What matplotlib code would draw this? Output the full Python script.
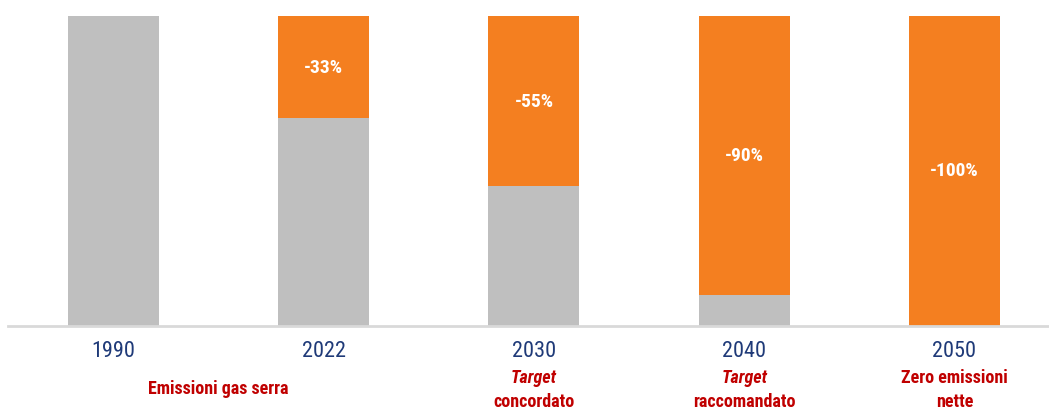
import matplotlib.pyplot as plt
import numpy as np

plt.rcParams['font.family'] = ['Roboto Condensed', 'Liberation Sans', 'DejaVu Sans']

# dati: emissioni rispetto al 1990 (%)
anni = ['1990', '2022', '2030', '2040', '2050']
riduzione = [0, 33, 55, 90, 100]
rimanente = [100, 67, 45, 10, 0]
etichette_pct = ['', '-33%', '-55%', '-90%', '-100%']

grigio = '#BFBFBF'
arancio = '#F47F20'
blu = '#1F3A78'
rosso = '#C00000'

fig = plt.figure(figsize=(10.49, 4.10), dpi=100)
ax = fig.add_axes([8 / 1049, 1 - 326.5 / 410, 1 - 8 / 1049, 310 / 410])

x = np.arange(len(anni))
w = 0.433
ax.bar(x, rimanente, w, color=grigio, zorder=2)
ax.bar(x, riduzione, w, bottom=rimanente, color=arancio, zorder=2)

for i, lab in enumerate(etichette_pct):
    if lab:
        ax.text(i, rimanente[i] + riduzione[i] / 2, lab, ha='center', va='center',
                color='white', fontsize=14, fontweight='bold')

ax.set_xlim(-0.502, 4.45)
ax.set_ylim(0, 100)
ax.set_yticks([])
ax.set_xticks([])
for s in ['top', 'right', 'left']:
    ax.spines[s].set_visible(False)
ax.spines['bottom'].set_color('#D9D9D9')
ax.spines['bottom'].set_linewidth(2)

tr = ax.get_xaxis_transform()
for i, a in enumerate(anni):
    ax.text(i, -0.082, a, transform=tr, ha='center', va='center', color=blu, fontsize=16)

# etichette in rosso
rosso_kw = dict(transform=tr, ha='center', va='center', color=rosso,
                fontsize=13, fontweight='bold')
ax.text(0.5, -0.2, 'Emissioni gas serra', **rosso_kw)
ax.text(2, -0.167, 'Target', style='italic', **rosso_kw)
ax.text(2, -0.242, 'concordato', **rosso_kw)
ax.text(3, -0.167, 'Target', style='italic', **rosso_kw)
ax.text(3, -0.242, 'raccomandato', **rosso_kw)
ax.text(4, -0.167, 'Zero emissioni', **rosso_kw)
ax.text(4, -0.242, 'nette', **rosso_kw)

fig.savefig('out.png', dpi=100)
